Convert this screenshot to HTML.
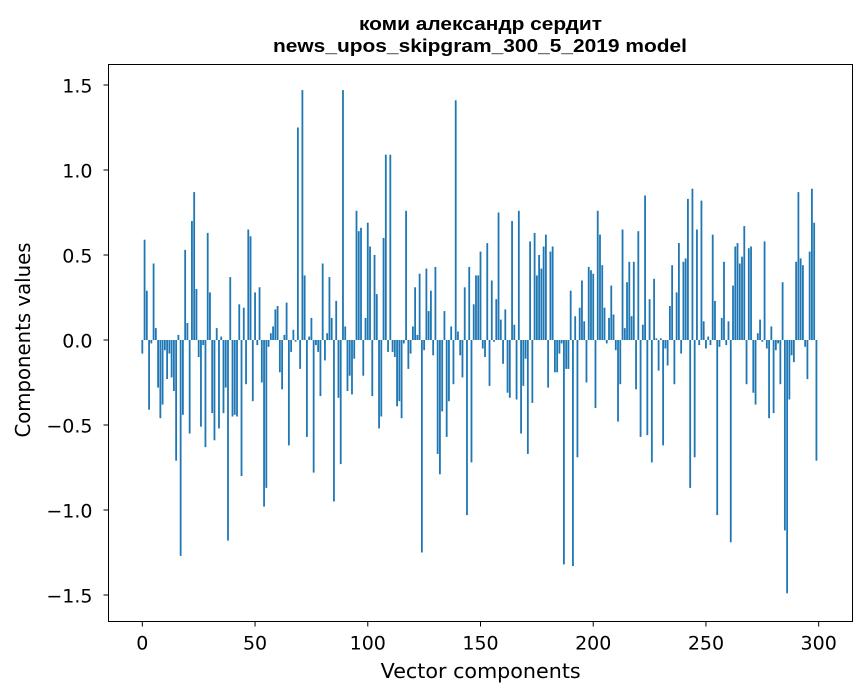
<!DOCTYPE html>
<html><head><meta charset="utf-8"><style>
body{margin:0;background:#fff;}
svg{display:block;font-family:"DejaVu Sans","Liberation Sans",sans-serif;}
</style></head><body>
<svg id="chart" width="867" height="696" xmlns="http://www.w3.org/2000/svg">
<rect width="867" height="696" fill="#fff"/>
<text x="480.5" y="30" text-anchor="middle" font-size="18" font-weight="bold" font-family="Liberation Sans, sans-serif" textLength="243" lengthAdjust="spacingAndGlyphs">коми александр сердит</text>
<text x="480" y="52" text-anchor="middle" font-size="18" font-weight="bold" font-family="Liberation Sans, sans-serif" textLength="414" lengthAdjust="spacingAndGlyphs">news_upos_skipgram_300_5_2019 model</text>
<g id="bars"></g>
<g id="axes"></g>
<rect x="108.5" y="64.5" width="744" height="557" fill="none" stroke="#000" stroke-width="1"/>
<text x="480.7" y="678" text-anchor="middle" font-size="20" textLength="200" lengthAdjust="spacingAndGlyphs">Vector components</text>
<text transform="translate(30,340) rotate(-90)" text-anchor="middle" font-size="20" textLength="195" lengthAdjust="spacingAndGlyphs">Components values</text>
</svg>
<script>
const values = [
-0.08,0.59,0.29,-0.41,-0.02,0.45,0.07,-0.28,-0.46,-0.38,
-0.06,-0.23,-0.08,-0.22,-0.30,-0.71,0.03,-1.27,-0.44,0.53,
0.10,-0.55,0.70,0.87,0.30,-0.10,-0.51,-0.03,-0.63,0.63,
0.28,-0.43,-0.59,0.07,-0.52,0.02,-0.43,-0.28,-1.18,0.37,
-0.45,-0.44,-0.45,0.21,-0.80,0.19,-0.26,0.65,0.61,-0.36,
0.28,-0.03,0.31,-0.25,-0.98,-0.87,-0.04,0.04,0.08,0.18,
0.20,-0.19,-0.29,0.03,0.22,-0.62,-0.07,0.06,-0.01,1.25,
-0.17,1.47,0.38,-0.57,0.02,0.13,-0.78,-0.03,-0.07,-0.33,
0.45,-0.12,0.04,0.37,0.13,-0.95,0.23,-0.34,-0.73,1.47,
0.08,-0.30,-0.21,-0.32,-0.11,0.76,0.64,0.66,-0.21,0.13,
0.69,0.55,-0.33,0.50,0.27,-0.52,-0.45,0.60,1.09,-0.07,
1.09,-0.07,-0.10,-0.39,-0.36,-0.46,-0.02,0.76,-0.17,-0.08,
0.08,0.31,0.03,0.39,-1.25,-0.06,0.42,0.17,0.29,-0.09,
0.43,-0.67,-0.79,-0.42,0.17,-0.57,-0.36,0.08,-0.26,1.41,
0.05,-0.09,-0.22,0.31,-1.03,0.43,-0.72,0.21,0.38,0.38,
0.52,-0.05,-0.10,0.57,-0.27,0.35,-0.01,0.24,0.75,0.12,
-0.14,0.18,-0.31,-0.34,0.70,0.09,-0.35,0.76,-0.55,-0.27,
-0.11,-0.67,0.58,-0.37,0.63,0.38,0.50,0.42,0.55,0.62,
-0.28,0.52,0.55,-0.19,-0.19,-0.08,-0.02,-1.32,-0.17,-0.17,
0.29,-1.33,0.14,-0.69,0.19,0.35,0.11,-0.25,0.43,0.41,
0.39,-0.40,0.76,0.62,0.44,0.19,-0.02,0.13,0.32,0.15,
-0.06,-0.48,-0.26,0.65,0.07,0.34,0.46,0.14,0.46,-0.29,
0.64,-0.57,0.09,0.85,-0.56,0.24,-0.72,0.36,0.01,-0.18,
0.01,-0.62,-0.05,-0.15,0.20,0.44,-0.26,0.28,0.57,-0.08,
0.46,0.48,0.83,-0.87,0.89,-0.69,0.65,-0.03,0.82,0.11,
-0.05,0.02,-0.03,0.62,0.23,-1.03,-0.04,0.13,0.46,-0.03,
0.11,-1.19,0.32,0.55,0.57,0.45,0.49,0.67,-0.26,0.54,
0.55,-0.31,-0.38,0.04,0.12,-0.01,0.58,-0.05,-0.46,0.08,
-0.43,-0.06,-0.02,-0.26,0.34,-1.12,-1.49,-0.35,-0.09,-0.13,
0.46,0.87,0.48,0.44,-0.04,-0.23,0.52,0.89,0.69,-0.71
];
const xTicks = [0,50,100,150,200,250,300];
const yTicks = [-1.5,-1.0,-0.5,0.0,0.5,1.0,1.5];
const yTickLabels = ["\u22121.5","\u22121.0","\u22120.5","0.0","0.5","1.0","1.5"];

const NS = "http://www.w3.org/2000/svg";
const xMin=-15, xMax=315, pL=108.5, pR=852.5, pB=621.5;
function xs(v){return pL+(v-xMin)/(xMax-xMin)*(pR-pL);}
function ys(v){return 340-v*170;}

const barsG=document.getElementById('bars');
values.forEach((v,i)=>{
  const r=document.createElementNS(NS,'rect');
  const x0=xs(i-0.4), x1=xs(i+0.4);
  const y0=Math.min(ys(v),ys(0)), h=Math.abs(ys(v)-ys(0));
  r.setAttribute('x',x0);r.setAttribute('width',x1-x0);
  r.setAttribute('y',y0);r.setAttribute('height',h);
  r.setAttribute('fill','#1f77b4');
  
  
  barsG.appendChild(r);
});
const axesG=document.getElementById('axes');
xTicks.forEach(t=>{
  const l=document.createElementNS(NS,'line');
  l.setAttribute('x1',xs(t));l.setAttribute('x2',xs(t));
  l.setAttribute('y1',pB);l.setAttribute('y2',pB+5);
  l.setAttribute('stroke','#000');
  
  
  axesG.appendChild(l);
  const tx=document.createElementNS(NS,'text');
  tx.setAttribute('x',xs(t));tx.setAttribute('y',pB+28);
  tx.setAttribute('text-anchor','middle');tx.setAttribute('font-size','19');
  tx.textContent=t;
  
  
  axesG.appendChild(tx);
});
yTicks.forEach((t,k)=>{
  const l=document.createElementNS(NS,'line');
  l.setAttribute('x1',pL-5);l.setAttribute('x2',pL);
  l.setAttribute('y1',ys(t));l.setAttribute('y2',ys(t));
  l.setAttribute('stroke','#000');
  
  
  axesG.appendChild(l);
  const tx=document.createElementNS(NS,'text');
  tx.setAttribute('x',pL-16);tx.setAttribute('y',ys(t)+7.5);
  tx.setAttribute('text-anchor','end');tx.setAttribute('font-size','19');
  tx.textContent=yTickLabels[k];
  
  
  axesG.appendChild(tx);
});
</script>
</body></html>
